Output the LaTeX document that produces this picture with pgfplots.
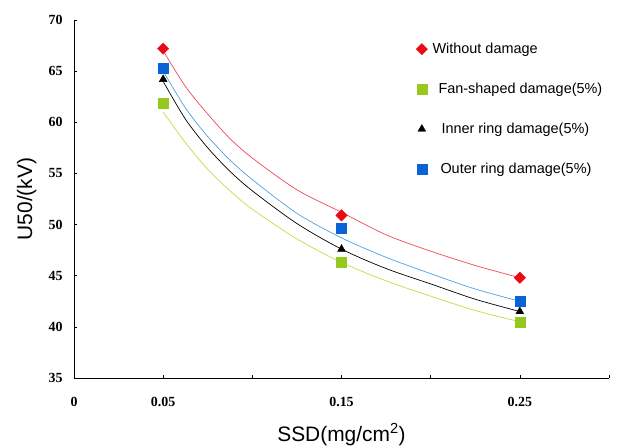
\documentclass[border=0pt]{standalone}
\usepackage{pgfplots}
\pgfplotsset{compat=1.18}
\usepackage{fontspec}
\setmainfont{Liberation Serif}
\newfontfamily\arial{Liberation Sans}
\definecolor{cred}{RGB}{235,10,20}
\definecolor{cgreen}{RGB}{150,200,30}
\definecolor{cblue}{RGB}{10,100,215}
\definecolor{lred}{RGB}{240,70,90}
\definecolor{lgreen}{RGB}{185,225,70}
\definecolor{lblue}{RGB}{80,160,225}
\begin{document}
\begin{tikzpicture}[x=1bp,y=1bp]
\useasboundingbox (0,0) rectangle (626,447);
\begin{axis}[
  at={(74bp,69bp)}, anchor=origin,
  scale only axis, width=535bp, height=358bp,
  xmin=0, xmax=0.3, ymin=35, ymax=70,
  axis lines=left, axis line style={-, line width=0.8pt},
  xtick={0,0.05,0.1,0.15,0.2,0.25,0.3},
  xticklabels={0,0.05,,0.15,,0.25,},
  ytick={35,40,45,50,55,60,65,70},
  tick style={black, line width=0.5pt},
  major tick length=3bp,
  xtick align=inside, ytick align=inside,
  /pgf/number format/assume math mode=true,
  tick label style={font=\fontsize{14}{16}\selectfont\bfseries},
  xticklabel style={yshift=-16bp},
  yticklabel style={xshift=-8bp},
  xlabel={\arial SSD(mg/cm\textsuperscript{2})},
  ylabel={\arial U50/(kV)},
  label style={font=\fontsize{21}{23}\selectfont},
  xlabel style={at={(axis description cs:0.5,0)}, anchor=north, yshift=-42bp},
  ylabel style={at={(axis description cs:0,0.5)}, anchor=south, yshift=34bp},
  legend style={draw=none, fill=none, at={(339bp,339bp)}, anchor=north west,
    font=\arial\fontsize{14.5}{16}\selectfont, row sep=24bp,
    legend cell align=left},
  legend image code/.code={\draw[#1] plot coordinates {(0.2cm,0cm)};},
  clip=false,
]
% fitted curves
\addplot[lred, line width=0.7pt, smooth, forget plot] coordinates {(0.05,67.0) (0.0625,63.5) (0.075,60.8) (0.0875,58.4) (0.1,56.5) (0.125,53.4) (0.15,51.2) (0.175,49.0) (0.2,47.4) (0.225,46.0) (0.25,44.8)};
\addplot[lblue, line width=0.7pt, smooth, forget plot] coordinates {(0.05,65.0) (0.0625,61.4) (0.075,58.6) (0.0875,56.3) (0.1,54.4) (0.125,51.1) (0.15,48.7) (0.175,46.8) (0.2,45.2) (0.225,43.7) (0.25,42.5)};
\addplot[black, line width=0.7pt, smooth, forget plot] coordinates {(0.05,64.0) (0.0625,60.3) (0.075,57.5) (0.0875,55.2) (0.1,53.3) (0.125,50.1) (0.15,47.6) (0.175,45.7) (0.2,44.2) (0.225,42.7) (0.25,41.5)};
\addplot[lgreen, line width=0.7pt, smooth, forget plot] coordinates {(0.05,61.0) (0.0625,58.0) (0.075,55.4) (0.0875,53.3) (0.1,51.5) (0.125,48.6) (0.15,46.3) (0.175,44.5) (0.2,43.0) (0.225,41.6) (0.25,40.5)};
% data points
\addplot[only marks, mark=square*, mark size=4bp, cred, mark options={fill=cred, rotate=45}] coordinates {(0.05,67.2) (0.15,50.9) (0.25,44.8)};
\addlegendentry{\hspace{3bp}Without damage}
\addplot[only marks, mark=square*, mark size=5bp, cgreen, mark options={fill=cgreen}] coordinates {(0.05,61.9) (0.15,46.3) (0.25,40.5)};
\addlegendentry{\hspace{9bp}Fan-shaped damage(5\%)}
\addplot[only marks, mark=triangle*, mark size=4.5bp, black] coordinates {(0.05,64.2) (0.15,47.6) (0.25,41.5)};
\addlegendentry{\hspace{12bp}Inner ring damage(5\%)}
\addplot[only marks, mark=square*, mark size=5bp, cblue, mark options={fill=cblue}] coordinates {(0.05,65.3) (0.15,49.6) (0.25,42.5)};
\addlegendentry{\hspace{11bp}Outer ring damage(5\%)}
\end{axis}
\end{tikzpicture}
\end{document}
